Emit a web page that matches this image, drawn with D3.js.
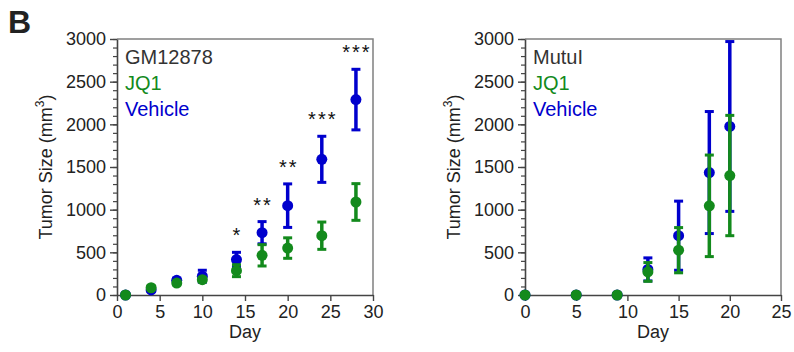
<!DOCTYPE html>
<html>
<head>
<meta charset="utf-8">
<script src="https://cdn.jsdelivr.net/npm/d3@7"></script>
<style>
  body { margin: 0; background: #fff; }
  svg { display: block; font-family: "Liberation Sans", Arial, Helvetica, sans-serif; }
</style>
</head>
<body>
<svg id="chart" width="794" height="352"></svg>
<script>
"use strict";

// GM12878 panel
var gmDays = [1, 4, 7, 10, 14, 17, 20, 24, 28];
var gmVehMean = [0, 60, 172, 220, 415, 730, 1047, 1590, 2290];
var gmVehErr = [0, 20, 25, 70, 85, 130, 255, 270, 355];
var gmJq1Mean = [0, 85, 140, 180, 285, 465, 550, 695, 1090];
var gmJq1Err = [0, 20, 20, 25, 70, 125, 120, 160, 215];
var gmStars = ["", "", "", "", "*", "**", "**", "***", "***"];

// MutuI panel
var mutuDays = [0, 5, 9, 12, 15, 18, 20];
var mutuVehMean = [0, 0, 0, 300, 695, 1435, 1975];
var mutuVehErr = [0, 0, 0, 135, 405, 715, 995];
var mutuJq1Mean = [0, 0, 0, 270, 525, 1045, 1400];
var mutuJq1Err = [0, 0, 0, 110, 265, 595, 705];

var yMajorTicks = [0, 500, 1000, 1500, 2000, 2500, 3000];
var legendLabels = ["JQ1", "Vehicle"];

var blue = "#0000cd",
    green = "#138a1c",
    textGray = "#333";

var svg = d3.select("#chart");

svg.append("text").attr("x", 8).attr("y", 33).attr("font-size", 32).attr("font-weight", "bold")
  .attr("fill", "#222").text("B");

function styleAxis(a) {
  a.select(".domain").attr("stroke", "#444").attr("stroke-width", 1.6);
  a.selectAll("line").attr("stroke", "#444").attr("stroke-width", 1.4);
  a.selectAll("text").attr("font-size", 18).attr("fill", "#222").attr("font-family", null);
}

function drawPanel(opts) {
  var left = opts.left, right = opts.left + 256, top = 39, bottom = 295;
  var x = d3.scaleLinear().domain([0, opts.xMax]).range([left, right]);
  var y = d3.scaleLinear().domain([0, 3000]).range([bottom, top]);
  var g = svg.append("g");

  //Frame top and right
  g.append("path").attr("d", "M" + left + "," + top + "H" + right + "V" + bottom)
    .attr("fill", "none").attr("stroke", "#808080").attr("stroke-width", 1.5);

  //Minor y ticks
  var minor = d3.axisLeft(y).tickValues(d3.range(0, 3001, 100)).tickSize(4).tickFormat("").tickSizeOuter(0);
  g.append("g").attr("transform", "translate(" + left + ",0)").call(minor)
    .call(function (a) { a.select(".domain").remove(); a.selectAll("line").attr("stroke", "#444").attr("stroke-width", 1.2); });

  var yAxis = d3.axisLeft(y).tickValues(yMajorTicks).tickFormat(d3.format("d")).tickSize(7).tickPadding(4).tickSizeOuter(0);
  g.append("g").attr("transform", "translate(" + left + ",0)").call(yAxis).call(styleAxis);

  var xAxis = d3.axisBottom(x).ticks(opts.xMax / 5).tickFormat(d3.format("d")).tickSize(6).tickPadding(4).tickSizeOuter(0);
  g.append("g").attr("transform", "translate(0," + bottom + ")").call(xAxis).call(styleAxis);

  //Axis titles
  g.append("text").attr("x", (left + right) / 2).attr("y", 338).attr("text-anchor", "middle")
    .attr("font-size", 18).attr("fill", "#222").text("Day");
  var yl = g.append("text").attr("transform", "translate(" + (left - 65) + "," + (top + bottom) / 2 + ") rotate(-90)")
    .attr("text-anchor", "middle").attr("font-size", 18).attr("fill", "#222");
  yl.append("tspan").text("Tumor Size (mm");
  yl.append("tspan").attr("font-size", 12).attr("dy", -8).text("3");
  yl.append("tspan").attr("dy", 8).text(")");

  //Legend
  var legend = [opts.name].concat(legendLabels);
  var legendColors = [textGray, green, blue];
  legend.forEach(function (t, i) {
    g.append("text").attr("x", left + 8).attr("y", 64 + i * 26).attr("font-size", 20)
      .attr("fill", legendColors[i]).text(t);
  });

  //Series: vehicle first, JQ1 on top
  opts.series.forEach(function (s) {
    var pts = opts.days.map(function (d, i) { return { day: d, mean: s.mean[i], err: s.err[i] }; });
    var sg = g.append("g");
    var withErr = pts.filter(function (p) { return p.err > 0; });
    sg.selectAll(".bar").data(withErr).enter().append("line")
      .attr("x1", function (p) { return x(p.day); }).attr("x2", function (p) { return x(p.day); })
      .attr("y1", function (p) { return y(p.mean - p.err); }).attr("y2", function (p) { return y(p.mean + p.err); })
      .attr("stroke", s.color).attr("stroke-width", 3.5);
    [-1, 1].forEach(function (sign) {
      sg.selectAll(".cap" + sign).data(withErr).enter().append("line")
        .attr("x1", function (p) { return x(p.day) - 4.5; }).attr("x2", function (p) { return x(p.day) + 4.5; })
        .attr("y1", function (p) { return y(p.mean + sign * p.err); }).attr("y2", function (p) { return y(p.mean + sign * p.err); })
        .attr("stroke", s.color).attr("stroke-width", 3);
    });
    sg.selectAll("circle").data(pts).enter().append("circle")
      .attr("cx", function (p) { return x(p.day); }).attr("cy", function (p) { return y(p.mean); })
      .attr("r", 5.5).attr("fill", s.color);
  });

  //Significance stars above the vehicle bars
  if (opts.stars) {
    var veh = opts.series[0];
    g.selectAll(".star").data(opts.days).enter().append("text")
      .attr("x", function (d) { return x(d) + 1; })
      .attr("y", function (d, i) { return y(veh.mean[i] + veh.err[i]) - 10; })
      .attr("text-anchor", "middle").attr("font-size", 20).attr("letter-spacing", 2).attr("fill", "#111")
      .text(function (d, i) { return opts.stars[i]; });
  }
}

drawPanel({
  left: 117, xMax: 30, name: "GM12878", days: gmDays, stars: gmStars,
  series: [
    { mean: gmVehMean, err: gmVehErr, color: blue },
    { mean: gmJq1Mean, err: gmJq1Err, color: green }
  ]
});

drawPanel({
  left: 525, xMax: 25, name: "MutuI", days: mutuDays,
  series: [
    { mean: mutuVehMean, err: mutuVehErr, color: blue },
    { mean: mutuJq1Mean, err: mutuJq1Err, color: green }
  ]
});
</script>
</body>
</html>
